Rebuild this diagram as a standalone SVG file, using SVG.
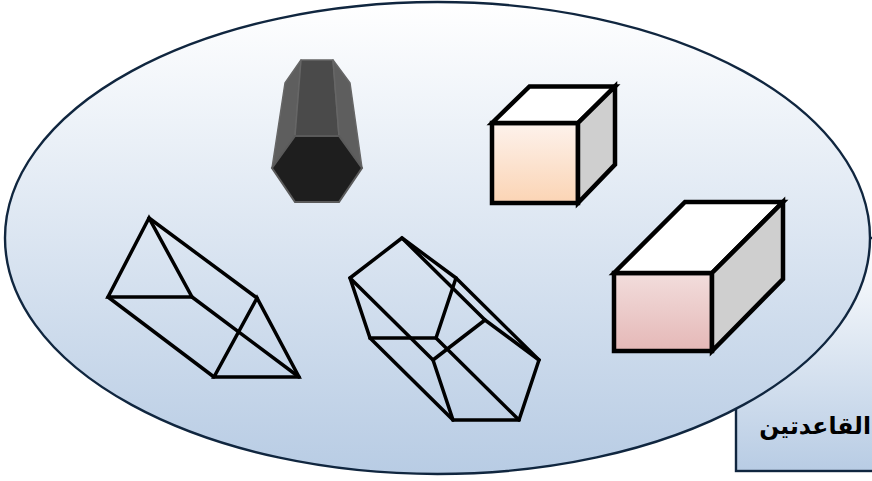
<svg xmlns="http://www.w3.org/2000/svg" width="872" height="481" viewBox="0 0 872 481">
  <defs>
    <linearGradient id="gBlue" x1="0" y1="0" x2="0" y2="1">
      <stop offset="0" stop-color="#ffffff"/>
      <stop offset="1" stop-color="#b8cce4"/>
    </linearGradient>
    <linearGradient id="gPeach" x1="0" y1="0" x2="0" y2="1">
      <stop offset="0" stop-color="#fdf2ec"/>
      <stop offset="1" stop-color="#fbd4b4"/>
    </linearGradient>
    <linearGradient id="gRose" x1="0" y1="0" x2="0" y2="1">
      <stop offset="0" stop-color="#f2dddc"/>
      <stop offset="1" stop-color="#e5b8b7"/>
    </linearGradient>
    <style>
      .frame{stroke:#10263f;stroke-width:2.4}
      .wire{fill:none;stroke:#000;stroke-width:3.5;stroke-linejoin:miter;stroke-linecap:round}
      .solid{stroke:#000;stroke-width:4.5;stroke-linejoin:miter}
      .hex{stroke:#666;stroke-width:1.5;stroke-linejoin:round}
      .label{font-family:"DejaVu Sans","Liberation Sans",sans-serif;font-weight:bold;font-size:23.5px;fill:#000}
    </style>
  </defs>

  <g id="label-box">
    <rect x="736" y="238" width="150" height="233" fill="url(#gBlue)" class="frame"/>
  </g>

  <g id="set-ellipse">
    <ellipse cx="437.5" cy="238" rx="432.5" ry="236" fill="url(#gBlue)" class="frame"/>
  </g>

  <g id="label-text">
    <text x="871" y="434" text-anchor="end" class="label">القاعدتين</text>
  </g>

  <g id="hexagonal-prism">
    <polygon points="285,83 301,60 295,136 272,168" fill="#5e5e5e" class="hex"/>
    <polygon points="301,60 333,60 339,136 295,136" fill="#4a4a4a" class="hex"/>
    <polygon points="333,60 350,83 362,168 339,136" fill="#5e5e5e" class="hex"/>
    <polygon points="295,136 339,136 362,168 339,202 295,202 272,168" fill="#1e1e1e" stroke="#5a5a5a" stroke-width="2"/>
  </g>

  <g id="cube">
    <rect x="492" y="123" width="86" height="80" fill="url(#gPeach)" class="solid"/>
    <polygon points="492,123 529.5,86.5 615,86.5 578,123" fill="#ffffff" class="solid"/>
    <polygon points="578,123 615,86.5 615,164.5 578,203" fill="#cfcfcf" class="solid"/>
  </g>

  <g id="cuboid">
    <rect x="614" y="273" width="98" height="78" fill="url(#gRose)" class="solid"/>
    <polygon points="614,273 685,202 783,202 712,273" fill="#ffffff" class="solid"/>
    <polygon points="712,273 783,202 783,279 712,351" fill="#cfcfcf" class="solid"/>
  </g>

  <g id="triangular-prism" class="wire">
    <polygon points="149,218 108,297 192,297"/>
    <polygon points="257,298 214,377 299,377"/>
    <line x1="149" y1="218" x2="257" y2="298"/>
    <line x1="108" y1="297" x2="214" y2="377"/>
    <line x1="192" y1="297" x2="299" y2="377"/>
  </g>

  <g id="pentagonal-prism" class="wire">
    <polygon points="402,238 350,278 370,338 436,338 456,278"/>
    <polygon points="485,320 433,360 453,420 519,420 539,360"/>
    <line x1="402" y1="238" x2="485" y2="320"/>
    <line x1="350" y1="278" x2="433" y2="360"/>
    <line x1="370" y1="338" x2="453" y2="420"/>
    <line x1="436" y1="338" x2="519" y2="420"/>
    <line x1="456" y1="278" x2="539" y2="360"/>
  </g>
</svg>
